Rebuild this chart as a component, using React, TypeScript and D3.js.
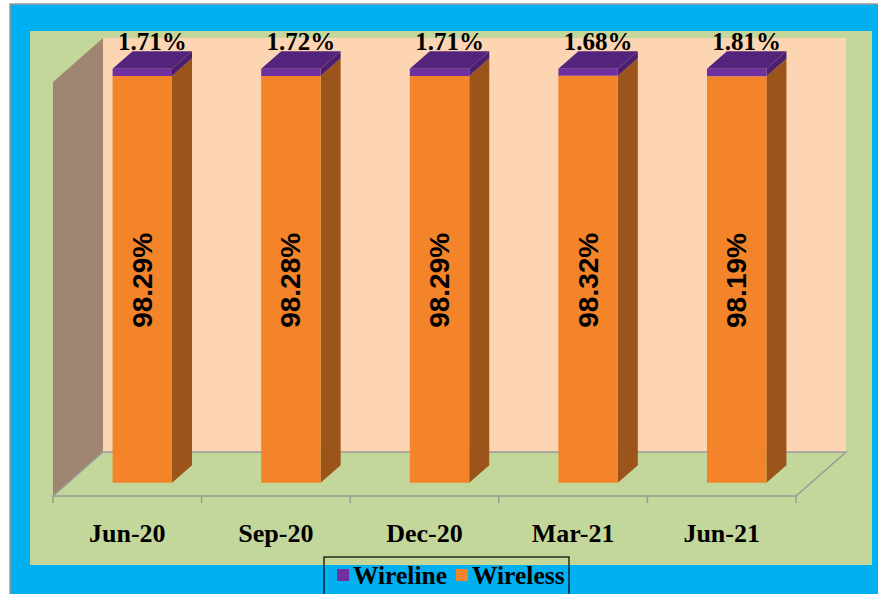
import React from "react";
import * as d3 from "d3";

const categories = ["Jun-20", "Sep-20", "Dec-20", "Mar-21", "Jun-21"];
const wireline = [1.71, 1.72, 1.71, 1.68, 1.81];
const wireless = [98.29, 98.28, 98.29, 98.32, 98.19];
const seriesNames = ["Wireline", "Wireless"];

const W = 878;
const H = 594;
const DX = 50;
const DY = 44;
const Z0 = 0.3;
const Z1 = 0.7;

const C = {
  blue: "#00B0F0",
  green: "#C4D79B",
  wall: "#FDD5B3",
  side: "#A08670",
  purple: "#7030A0",
  purpleTop: "#53247B",
  purpleSide: "#4B1F6D",
  orange: "#F4842A",
  orangeSide: "#9B5419",
  grid: "#9A9A9A",
};

export default function App() {
  const x = d3.scaleBand<string>().domain(categories).range([53, 796]).paddingInner(0.6).paddingOuter(0.3);
  const y = d3.scaleLinear().domain([0, 100]).range([496, 82]);
  const step = x.step();
  const P = (px: number, py: number, z: number) => [px + z * DX, py - z * DY];
  const poly = (pts: number[][]) => pts.map((p) => p.join(",")).join(" ");

  const box = (x0: number, x1: number, v0: number, v1: number, front: string, side: string, top: string | null, key: string) => {
    const y0 = y(v0), y1 = y(v1);
    const f = [P(x0, y1, Z0), P(x1, y1, Z0), P(x1, y0, Z0), P(x0, y0, Z0)];
    const s = [P(x1, y1, Z0), P(x1, y1, Z1), P(x1, y0, Z1), P(x1, y0, Z0)];
    const t = [P(x0, y1, Z0), P(x0, y1, Z1), P(x1, y1, Z1), P(x1, y1, Z0)];
    return (
      <g key={key}>
        <polygon points={poly(s)} fill={side} />
        {top && <polygon points={poly(t)} fill={top} />}
        <polygon points={poly(f)} fill={front} />
      </g>
    );
  };

  const xl = 53, xr = 796;
  const ticks = d3.range(categories.length + 1).map((i) => xl + i * step);

  return (
    <svg width={W} height={H} style={{ position: "absolute", left: 0, top: 0 }}>
      <rect x={0} y={0} width={W} height={H} fill="#fff" />
      <rect x={10} y={4} width={W} height={H} fill={C.blue} stroke="#9a9a9a" strokeWidth={1.5} />
      <rect x={30} y={31} width={842} height={534} fill={C.green} />
      {/* back wall */}
      <polygon points={poly([P(xl, y(100), 1), P(xr, y(100), 1), P(xr, y(0), 1), P(xl, y(0), 1)])} fill={C.wall} />
      {/* left wall */}
      <polygon points={poly([P(xl, y(100), 0), P(xl, y(100), 1), P(xl, y(0), 1), P(xl, y(0), 0)])} fill={C.side} />
      {/* floor */}
      <polygon points={poly([P(xl, y(0), 0), P(xr, y(0), 0), P(xr, y(0), 1), P(xl, y(0), 1)])} fill={C.green} stroke={C.grid} strokeWidth={1.5} />
      {ticks.map((t, i) => (
        <line key={i} x1={t} x2={t} y1={y(0)} y2={y(0) + 7} stroke={C.grid} strokeWidth={1.5} />
      ))}
      {categories.map((c, i) => {
        const x0 = x(c)!;
        const x1 = x0 + x.bandwidth();
        const tot = wireless[i] + wireline[i];
        const cx = x0 + x.bandwidth() / 2;
        const [mx, my] = P(cx, (y(0) + y(wireless[i])) / 2, Z0);
        const [lx, ly] = P(cx, y(tot), (Z0 + Z1) / 2);
        return (
          <g key={c}>
            {box(x0, x1, 0, wireless[i], C.orange, C.orangeSide, null, "o")}
            {box(x0, x1, wireless[i], tot, C.purple, C.purpleSide, C.purpleTop, "p")}
            <text
              transform={`translate(${mx},${my + 1}) rotate(-90)`}
              textAnchor="middle"
              dominantBaseline="central"
              fontFamily="'Liberation Sans', Arial, sans-serif"
              fontWeight="bold"
              fontSize={28}
              fill="#000"
            >
              {wireless[i].toFixed(2)}%
            </text>
            <text
              x={lx}
              y={ly - 10}
              textAnchor="middle"
              fontFamily="'Liberation Serif', serif"
              fontWeight="bold"
              fontSize={25}
              fill="#000"
            >
              {wireline[i].toFixed(2)}%
            </text>
            <text
              x={xl + (i + 0.5) * step}
              y={542}
              textAnchor="middle"
              fontFamily="'Liberation Serif', serif"
              fontWeight="bold"
              fontSize={26}
              fill="#000"
            >
              {c}
            </text>
          </g>
        );
      })}
      {/* legend */}
      <rect x={324} y={557} width={245} height={50} fill="none" stroke="#000" strokeWidth={1.2} />
      {seriesNames.map((s, i) => {
        const lx = i === 0 ? 337 : 456;
        return (
          <g key={s}>
            <rect x={lx} y={569} width={12} height={12} fill={i === 0 ? C.purple : C.orange} />
            <text x={lx + 16} y={584} fontFamily="'Liberation Serif', serif" fontWeight="bold" fontSize={25.5} fill="#000">
              {s}
            </text>
          </g>
        );
      })}
    </svg>
  );
}
